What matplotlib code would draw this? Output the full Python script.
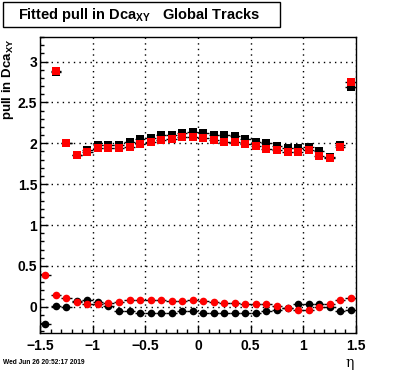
import numpy as np
import matplotlib
matplotlib.use("Agg")
import matplotlib.pyplot as plt

plt.rcParams['font.family'] = ['Liberation Sans', 'DejaVu Sans']
plt.rcParams['font.weight'] = 'bold'
plt.rcParams['mathtext.fontset'] = 'custom'
plt.rcParams['mathtext.bf'] = 'Liberation Sans:bold'
plt.rcParams['mathtext.rm'] = 'Liberation Sans:bold'
plt.rcParams['mathtext.default'] = 'bf'

# bin centres in eta
eta = np.round(np.arange(-1.45, 1.5, 0.1), 2)

# squares (upper group)
sq_black = [np.nan, 2.87, 2.00, 1.86, 1.92, 1.98, 1.98, 1.985, 2.01, 2.05, 2.07, 2.105, 2.105, 2.12, 2.14,
            2.12, 2.105, 2.105, 2.086, 2.05, 2.01, 2.00, 1.97, 1.946, 1.946, 1.96, 1.91, 1.83, 1.98, 2.69]
sq_red = [np.nan, 2.886, 2.00, 1.857, 1.89, 1.94, 1.94, 1.94, 1.955, 1.995, 2.01, 2.04, 2.057, 2.08, 2.08,
          2.06, 2.036, 2.02, 2.02, 1.995, 1.963, 1.934, 1.914, 1.897, 1.897, 1.914, 1.85, 1.816, 1.95, 2.755]

# circles (lower group)
ci_black = [-0.21, 0.012, 0.0, 0.07, 0.086, 0.065, 0.016, -0.045, -0.053, -0.07, -0.07, -0.07, -0.07, -0.053, -0.053,
            -0.07, -0.08, -0.08, -0.08, -0.07, -0.07, -0.049, -0.04, -0.02, 0.029, 0.04, 0.04, -0.008, -0.049, -0.033]
ci_red = [0.389, 0.143, 0.11, 0.058, 0.033, 0.033, 0.045, 0.058, 0.086, 0.086, 0.086, 0.086, 0.07, 0.07, 0.086,
          0.07, 0.058, 0.045, 0.045, 0.033, 0.033, 0.033, 0.008, -0.016, -0.033, -0.033, 0.0, 0.033, 0.086, 0.11]

yerr_sq = 0.012
yerr_ci = 0.01
xerr = 0.05

fig = plt.figure(figsize=(3.96, 3.72), dpi=100)
ax = fig.add_axes([40/396, 1-333/372, 316/396, 296/372])

for vals, col, mk, err in [(sq_black, 'black', 's', yerr_sq), (sq_red, 'red', 's', yerr_sq),
                           (ci_black, 'black', 'o', yerr_ci), (ci_red, 'red', 'o', yerr_ci)]:
    ax.errorbar(eta, vals, xerr=xerr, yerr=err, fmt=mk, color=col, ecolor='black',
                elinewidth=1, capsize=0, markersize=5.5, markeredgewidth=0)

ax.set_xlim(-1.5, 1.5)
ax.set_ylim(-0.32, 3.3)
ax.set_xticks([-1.5, -1, -0.5, 0, 0.5, 1, 1.5])
ax.set_xticklabels(['\u22121.5', '\u22121', '\u22120.5', '0', '0.5', '1', '1.5'])
ax.set_yticks([0, 0.5, 1, 1.5, 2, 2.5, 3])
ax.set_yticklabels(['0', '0.5', '1', '1.5', '2', '2.5', '3'])
ax.set_xticks(np.arange(-1.5, 1.51, 0.1), minor=True)
ax.set_yticks(np.arange(-0.3, 3.31, 0.1), minor=True)
ax.tick_params(which='both', direction='in', top=False, right=False, labelsize=10)
ax.tick_params(which='major', length=6, width=1)
ax.tick_params(which='minor', length=3, width=1)
ax.tick_params(axis='x', pad=4)
ax.tick_params(axis='y', pad=2)
ax.grid(True, which='major', color='black', linestyle=(0, (1, 3)), linewidth=1)
for s in ax.spines.values():
    s.set_linewidth(1)

# title box
fig.text(18/396, 1-15/372, 'Fitted pull in Dca$_{XY}$   Global Tracks', fontsize=10.5,
         ha='left', va='center')
fig.patches.append(matplotlib.patches.Rectangle((3/396, 1-27/372), 277/396, 25/372,
                                                transform=fig.transFigure, fill=False,
                                                edgecolor='black', linewidth=1))

fig.text(8.5/396, 1-39/372, 'pull in Dca$_{XY}$', fontsize=9.5, rotation=90,
         ha='center', va='top')
fig.text(350/396, 1-363/372, '\u03b7', fontsize=10, fontweight='normal',
         family='DejaVu Serif', ha='center', va='center')
fig.text(3/396, 1-362/372, 'Wed Jun 26 20:52:17 2019', fontsize=4.8, ha='left', va='center')

fig.savefig('out.png', dpi=100)
